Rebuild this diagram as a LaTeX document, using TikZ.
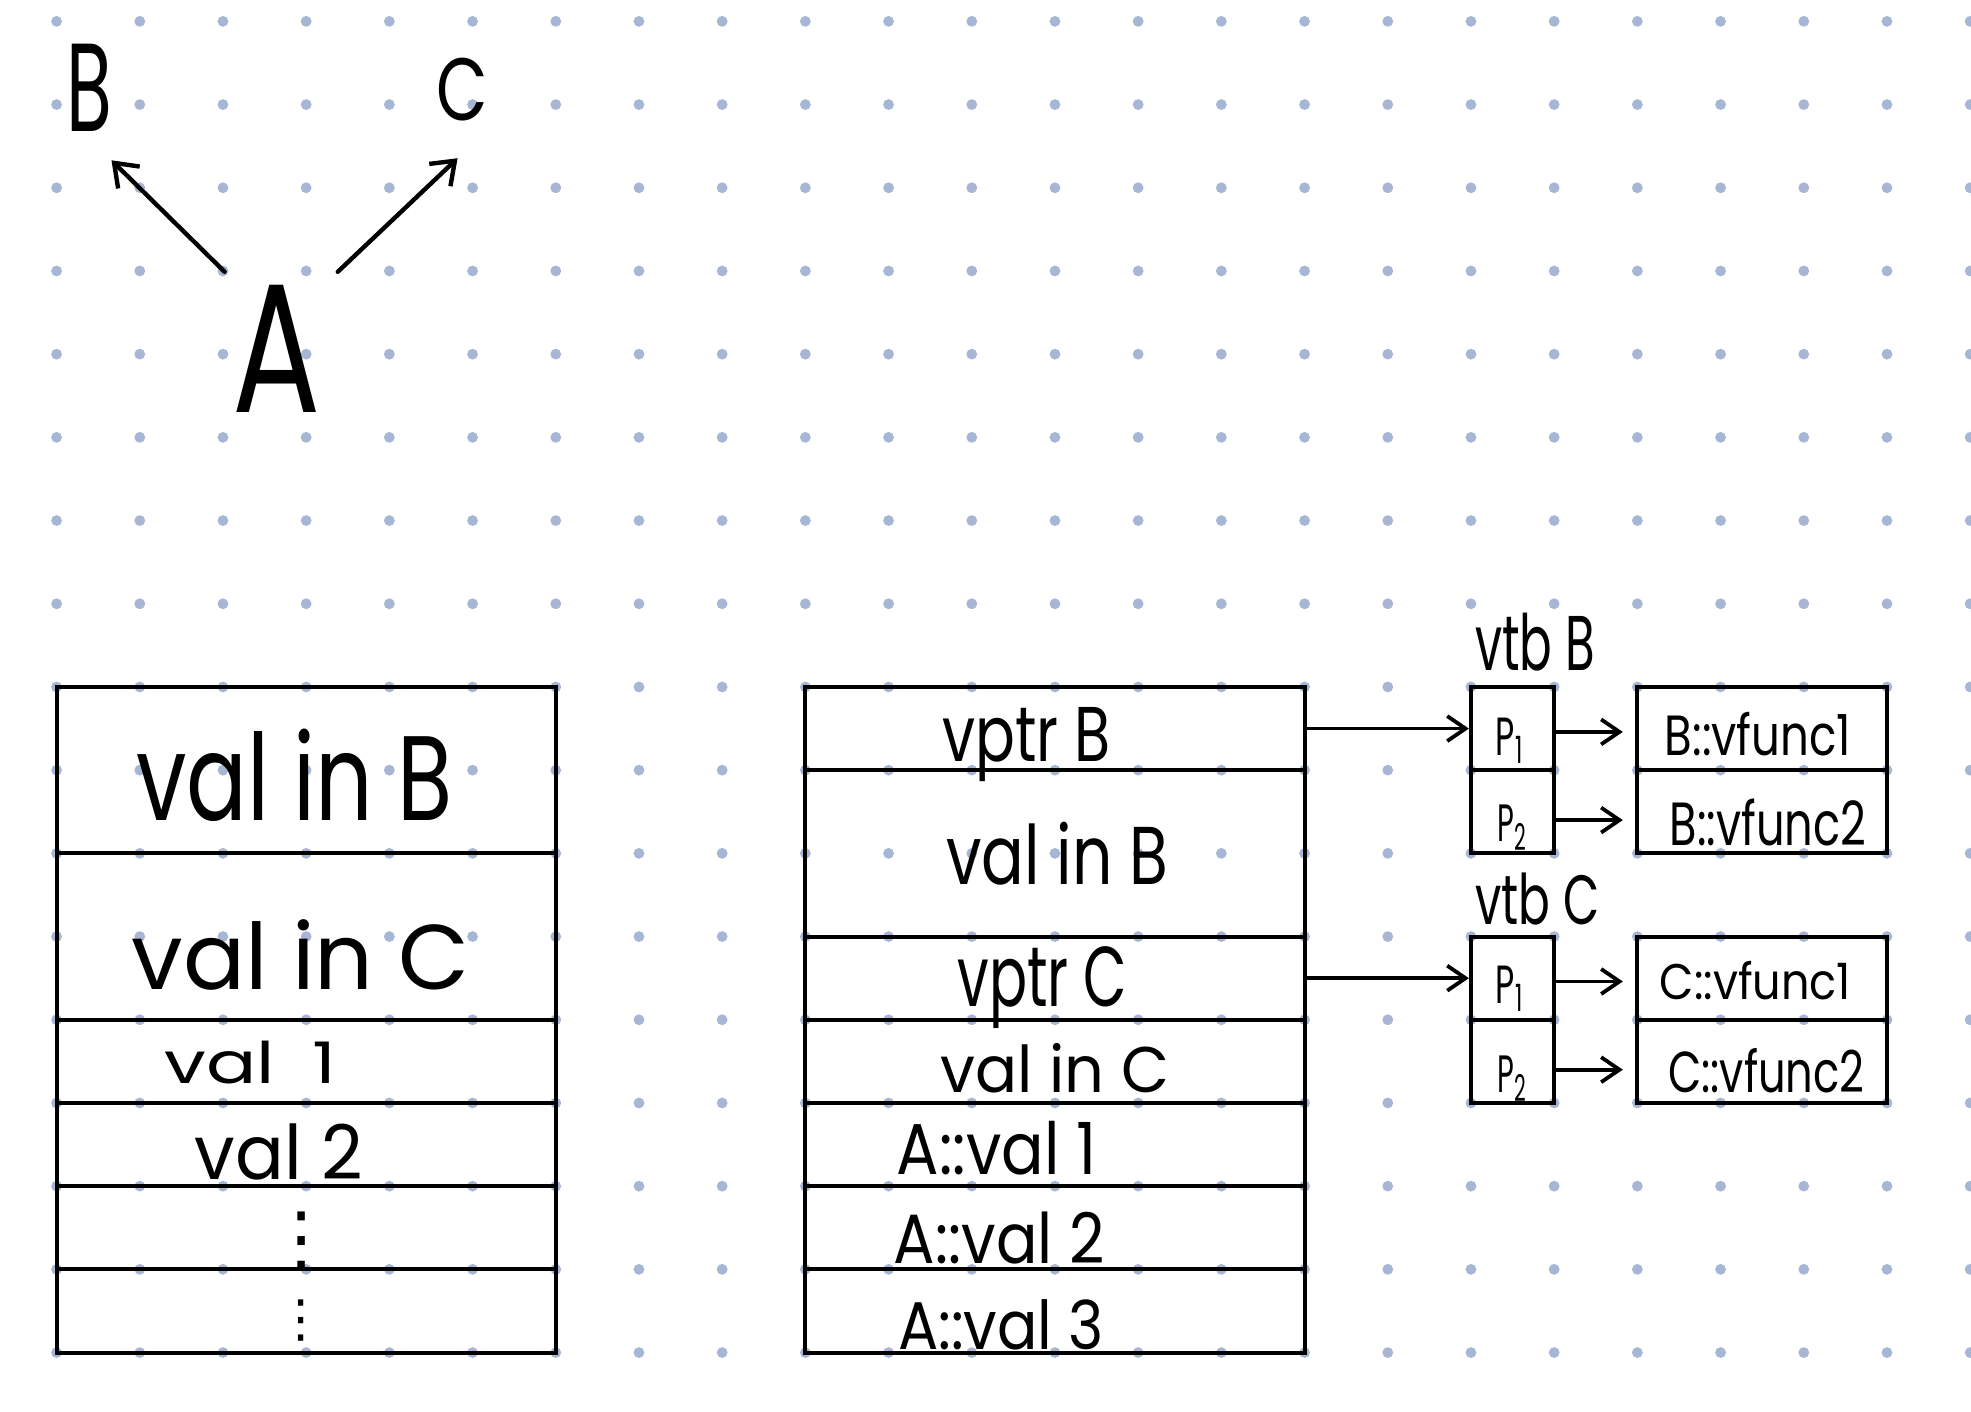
\documentclass[tikz,border=0pt]{standalone}
\usepackage{fontspec}
\setmainfont{Poppins}
\newfontfamily\symfont{DejaVu Sans}
\usetikzlibrary{arrows.meta}
\definecolor{dotc}{RGB}{166,182,212}
\newcommand\hw[3]{\resizebox{#1cm}{#2cm}{#3}}
\tikzset{
  cellbox/.style={draw, line width=1.4pt, inner sep=0pt},
  txt/.style={inner sep=0pt, anchor=base},
  letter/.style={inner sep=0pt, anchor=center},
  arr/.style={-{Straight Barb[length=0.22cm,width=0.3cm]}, line width=1.3pt, line cap=round, line join=round},
  bigarr/.style={-{Straight Barb[length=0.25cm,width=0.37cm]}, line width=1.5pt, line cap=round, line join=round}
}
\begin{document}
\begin{tikzpicture}[x=1cm,y=1cm]
\fill[white] (-0.680,0.257) rectangle (23.01,-16.71);
\useasboundingbox (-0.680,0.257) rectangle (23.01,-16.71);
% dot grid
\foreach \i in {0,...,23}{\foreach \j in {0,...,16}{\fill[dotc] (\i,-\j) circle (0.065);}}

% top letters
\node[letter] (B) at (0.40,-0.80) {\hw{0.55}{1.05}{B}};
\node[letter] (C) at (4.88,-0.82) {\hw{0.62}{0.75}{C}};
\node[letter] (A) at (2.65,-3.94) {\hw{1.06}{1.53}{A}};
\draw[bigarr] ([shift={(-0.63,0.93)}]A.center) -- ([shift={(0.26,-0.87)}]B.center);
\draw[bigarr] ([shift={(0.73,0.93)}]A.center) -- ([shift={(-0.06,-0.825)}]C.center);

% left object layout
\node[cellbox, minimum width=6cm, minimum height=2cm] (L1) at (3,-9) {};
\node[cellbox, minimum width=6cm, minimum height=2cm] (L2) at (3,-11) {};
\node[cellbox, minimum width=6cm, minimum height=1cm] (L3) at (3,-12.5) {};
\node[cellbox, minimum width=6cm, minimum height=1cm] (L4) at (3,-13.5) {};
\node[cellbox, minimum width=6cm, minimum height=1cm] (L5) at (3,-14.5) {};
\node[cellbox, minimum width=6cm, minimum height=1cm] (L6) at (3,-15.5) {};
\node[txt] (tL1) at (2.86,-9.60) {\hw{3.8}{1.1}{val in B}};
\node[txt] (tL2) at (2.93,-11.64) {\hw{4.06}{0.84}{val in C}};
\node[txt] (tL3) at (2.33,-12.77) {\hw{2.06}{0.51}{val\enspace 1}};
\node[txt] (tL4) at (2.67,-13.92) {\hw{2.02}{0.67}{val 2}};
\node[letter] (tL5) at (2.94,-14.66) {\resizebox{!}{0.62cm}{\symfont ⋮}};
\node[letter] (tL6) at (2.94,-15.62) {\resizebox{!}{0.44cm}{\symfont ⋮}};

% middle object layout
\node[cellbox, minimum width=6cm, minimum height=1cm] (M1) at (12,-8.5) {};
\node[cellbox, minimum width=6cm, minimum height=2cm] (M2) at (12,-10) {};
\node[cellbox, minimum width=6cm, minimum height=1cm] (M3) at (12,-11.5) {};
\node[cellbox, minimum width=6cm, minimum height=1cm] (M4) at (12,-12.5) {};
\node[cellbox, minimum width=6cm, minimum height=1cm] (M5) at (12,-13.5) {};
\node[cellbox, minimum width=6cm, minimum height=1cm] (M6) at (12,-14.5) {};
\node[cellbox, minimum width=6cm, minimum height=1cm] (M7) at (12,-15.5) {};
\node[txt] (tM1) at (11.66,-8.90) {\hw{2.02}{0.65}{vptr B}};
\node[txt] (tM2) at (12.03,-10.37) {\hw{2.67}{0.75}{val in B}};
\node[txt] (tM3) at (11.85,-11.84) {\hw{2.04}{0.72}{vptr C}};
\node[txt] (tM4) at (12.00,-12.87) {\hw{2.75}{0.59}{val in C}};
\node[txt] (tM5) at (11.30,-13.86) {\hw{2.40}{0.64}{A::val 1}};
\node[txt] (tM6) at (11.33,-14.93) {\hw{2.53}{0.62}{A::val 2}};
\node[txt] (tM7) at (11.35,-15.96) {\hw{2.47}{0.60}{A::val 3}};

% vtable B
\node[txt] (tvB) at (17.77,-7.80) {\hw{1.44}{0.69}{vtb B}};
\node[cellbox, minimum width=1cm, minimum height=1cm] (pB1) at (17.5,-8.5) {};
\node[cellbox, minimum width=1cm, minimum height=1cm] (pB2) at (17.5,-9.5) {};
\node[cellbox, minimum width=3cm, minimum height=1cm] (fB1) at (20.5,-8.5) {};
\node[cellbox, minimum width=3cm, minimum height=1cm] (fB2) at (20.5,-9.5) {};
\node[txt] (tpB1) at (17.47,-8.82) {\hw{0.34}{0.45}{P\textsubscript{1}}};
\node[txt] (tpB2) at (17.50,-9.86) {\hw{0.36}{0.44}{P\textsubscript{2}}};
\node[txt] (tfB1) at (20.45,-8.82) {\hw{2.24}{0.52}{B::vfunc1}};
\node[txt] (tfB2) at (20.57,-9.90) {\hw{2.36}{0.56}{B::vfunc2}};

% vtable C
\node[txt] (tvC) at (17.80,-10.86) {\hw{1.49}{0.62}{vtb C}};
\node[cellbox, minimum width=1cm, minimum height=1cm] (pC1) at (17.5,-11.5) {};
\node[cellbox, minimum width=1cm, minimum height=1cm] (pC2) at (17.5,-12.5) {};
\node[cellbox, minimum width=3cm, minimum height=1cm] (fC1) at (20.5,-11.5) {};
\node[cellbox, minimum width=3cm, minimum height=1cm] (fC2) at (20.5,-12.5) {};
\node[txt] (tpC1) at (17.47,-11.80) {\hw{0.34}{0.45}{P\textsubscript{1}}};
\node[txt] (tpC2) at (17.50,-12.87) {\hw{0.36}{0.44}{P\textsubscript{2}}};
\node[txt] (tfC1) at (20.42,-11.76) {\hw{2.30}{0.46}{C::vfunc1}};
\node[txt] (tfC2) at (20.55,-12.87) {\hw{2.36}{0.53}{C::vfunc2}};

% pointers
\draw[arr] (M1.east) -- (pB1.west);
\draw[arr] (M3.east) -- (pC1.west);
\draw[arr, shorten >=0.15cm] ([yshift=-0.04cm]pB1.east) -- ([yshift=-0.04cm]fB1.west);
\draw[arr, shorten >=0.15cm] ([yshift=-0.1cm]pB2.east) -- ([yshift=-0.1cm]fB2.west);
\draw[arr, shorten >=0.15cm] ([yshift=-0.04cm]pC1.east) -- ([yshift=-0.04cm]fC1.west);
\draw[arr, shorten >=0.15cm] ([yshift=-0.1cm]pC2.east) -- ([yshift=-0.1cm]fC2.west);
\end{tikzpicture}
\end{document}
